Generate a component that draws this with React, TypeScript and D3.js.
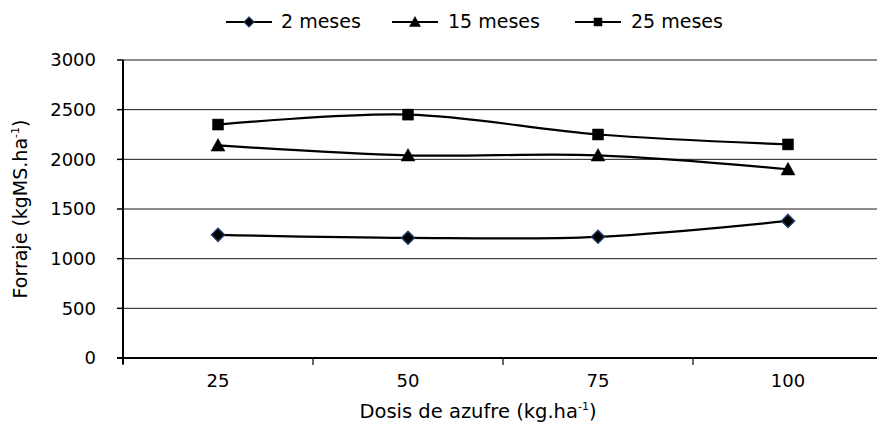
import React from "react";
import * as d3 from "d3";

const categories = ["25", "50", "75", "100"];
const meses2 = [1240, 1210, 1220, 1380];
const meses15 = [2140, 2040, 2040, 1900];
const meses25 = [2350, 2450, 2250, 2150];
const yTicks = [0, 500, 1000, 1500, 2000, 2500, 3000];
const seriesNames = ["2 meses", "15 meses", "25 meses"];
const seriesShapes = ["diamond", "triangle", "square"];

const W = 877;
const H = 424;
const FONT = "'DejaVu Sans', sans-serif";

function markerPath(shape: string, cx: number, cy: number, s: number): string {
  if (shape === "diamond") {
    const r = s / 2;
    return `M${cx},${cy - r}L${cx + r},${cy}L${cx},${cy + r}L${cx - r},${cy}Z`;
  }
  if (shape === "triangle") {
    const hw = s / 2;
    const h = s * 0.9;
    return `M${cx},${cy - h * 0.55}L${cx + hw},${cy + h * 0.45}L${cx - hw},${cy + h * 0.45}Z`;
  }
  const r = s / 2;
  return `M${cx - r},${cy - r}H${cx + r}V${cy + r}H${cx - r}Z`;
}

export default function App() {
  const x = d3.scaleBand<string>().domain(categories).range([123, 883]).padding(0);
  const y = d3.scaleLinear().domain([0, 3000]).range([358, 60]);
  const cx = (c: string) => (x(c) as number) + x.bandwidth() / 2;

  const series = [meses2, meses15, meses25];
  const line = d3
    .line<number>()
    .x((_, i) => cx(categories[i]))
    .y((v) => y(v))
    .curve(d3.curveCardinal.tension(0));

  const markerSize = [13, 14, 11];
  const legendLineStart = [226, 392, 575];
  const legendTextStart = [281, 448, 631];
  const legendMarkerSize = [10, 11, 8];

  const boundaries = [...categories.map((c) => x(c) as number), 883];

  return (
    <svg
      width={W}
      height={H}
      style={{ position: "absolute", left: 0, top: 0, display: "block", background: "#fff" }}
      fontFamily={FONT}
    >
      <rect x={0} y={0} width={W} height={H} fill="#fff" />
      {/* gridlines */}
      {yTicks.filter((t) => t > 0).map((t) => (
        <line key={"g" + t} x1={123} x2={883} y1={y(t)} y2={y(t)} stroke="#1a1a1a" strokeWidth={1} />
      ))}
      {/* y axis */}
      <line x1={123} x2={123} y1={y(3000)} y2={y(0) + 6} stroke="#000" strokeWidth={2} />
      {yTicks.map((t) => (
        <g key={"yt" + t}>
          <line x1={117} x2={123} y1={y(t)} y2={y(t)} stroke="#000" strokeWidth={1.5} />
          <text x={96} y={y(t)} dy="0.36em" textAnchor="end" fontSize={18} fill="#000">
            {t}
          </text>
        </g>
      ))}
      {/* x axis */}
      <line x1={117} x2={883} y1={y(0)} y2={y(0)} stroke="#000" strokeWidth={2} />
      {boundaries.map((b, i) => (
        <line key={"xt" + i} x1={b} x2={b} y1={y(0)} y2={y(0) + 7} stroke="#000" strokeWidth={1.2} />
      ))}
      {categories.map((c) => (
        <text key={"xl" + c} x={cx(c)} y={387} textAnchor="middle" fontSize={18} fill="#000">
          {c}
        </text>
      ))}
      {/* axis titles */}
      <text x={478} y={418} textAnchor="middle" fontSize={19.5} fill="#000">
        Dosis de azufre (kg.ha
        <tspan fontSize={11} dy={-8}>-1</tspan>
        <tspan dy={8}>)</tspan>
      </text>
      <text
        transform="translate(27,209) rotate(-90)"
        textAnchor="middle"
        fontSize={19}
        fill="#000"
      >
        Forraje (kgMS.ha
        <tspan fontSize={11} dy={-8}>-1</tspan>
        <tspan dy={8}>)</tspan>
      </text>
      {/* series */}
      {series.map((vals, si) => (
        <g key={"s" + si}>
          <path d={line(vals) || ""} fill="none" stroke="#000" strokeWidth={2.2} />
          {vals.map((v, i) => (
            <path
              key={"m" + i}
              d={markerPath(seriesShapes[si], cx(categories[i]), y(v), markerSize[si])}
              fill="#000"
              stroke={seriesShapes[si] === "diamond" ? "#1F3D6B" : "#000"}
              strokeWidth={seriesShapes[si] === "diamond" ? 1.5 : 0.5}
            />
          ))}
        </g>
      ))}
      {/* legend */}
      {seriesNames.map((n, i) => (
        <g key={"lg" + i}>
          <line
            x1={legendLineStart[i]}
            x2={legendLineStart[i] + 46}
            y1={22}
            y2={22}
            stroke="#000"
            strokeWidth={2.2}
          />
          <path
            d={markerPath(seriesShapes[i], legendLineStart[i] + 23, 22, legendMarkerSize[i])}
            fill="#000"
            stroke={seriesShapes[i] === "diamond" ? "#1F3D6B" : "#000"}
            strokeWidth={seriesShapes[i] === "diamond" ? 1.2 : 0.5}
          />
          <text x={legendTextStart[i]} y={28} fontSize={19} fill="#000">
            {n}
          </text>
        </g>
      ))}
    </svg>
  );
}
